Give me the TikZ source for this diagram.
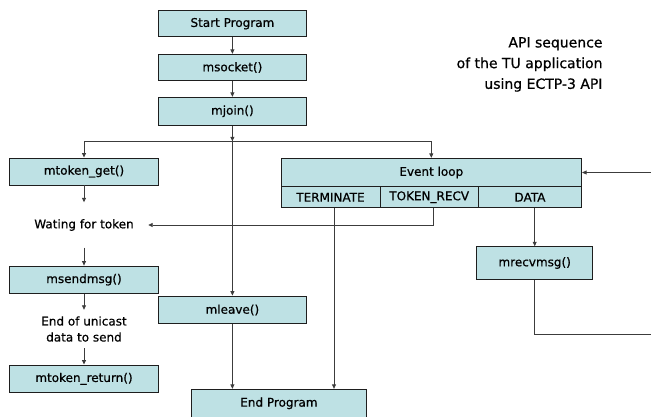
\documentclass[tikz,border=0pt]{standalone}
\usepackage{fontspec}
\setmainfont{DejaVu Sans}[BoldFont=DejaVu Sans,BoldFeatures={FakeBold=0.7}]
\usetikzlibrary{arrows.meta,calc}
\definecolor{boxfill}{RGB}{190,225,228}
\definecolor{boxline}{RGB}{30,30,30}
\definecolor{wire}{RGB}{60,60,60}
\tikzset{
  fnbox/.style={draw=boxline,fill=boxfill,line width=0.9pt,inner sep=0pt,
    font=\fontsize{12}{14}\selectfont\bfseries,text=black},
  note/.style={inner sep=0pt,font=\fontsize{12}{14}\selectfont\bfseries,align=center},
  wire/.style={draw=wire,line width=0.8pt},
  flow/.style={wire,-{Triangle[length=4.5pt,width=4pt]}},
}
\begin{document}
\begin{tikzpicture}[x=1pt,y=-1pt]
\useasboundingbox (0,0) rectangle (651,416);

% main column
\node[fnbox,minimum width=147.3pt,minimum height=26pt] (start) at (232.4,23.7) {Start Program};
\node[fnbox,minimum width=147.3pt,minimum height=26.4pt] (msocket) at (232.4,67.5) {msocket()};
\node[fnbox,minimum width=147.3pt,minimum height=28pt] (mjoin) at (232.4,111.3) {mjoin()};
\node[fnbox,minimum width=147.3pt,minimum height=27.7pt] (mleave) at (232.4,309.9) {mleave()};
\node[fnbox,minimum width=174.3pt,minimum height=28pt] (endp) at (278.9,403.3) {End Program};

% token sending column
\node[fnbox,minimum width=149.4pt,minimum height=27pt] (tokget) at (84,171.5) {mtoken\_get()};
\node[note,minimum width=128pt,minimum height=45pt] (wait) at (84,225) {Wating for token};
\node[fnbox,minimum width=149.4pt,minimum height=27.3pt] (send) at (84,279.7) {msendmsg()};
\node[note,minimum height=38pt,minimum width=100pt] (eodata) at (84,329)
  {End of unicast\\[2pt]data to send};
\node[fnbox,minimum width=149.4pt,minimum height=27.7pt] (tokret) at (84,378.8) {mtoken\_return()};

% event loop with its three events
\node[fnbox,minimum width=300.7pt,minimum height=28.4pt] (evloop) at (431.3,172.5) {Event loop};
\node[fnbox,minimum width=99pt,minimum height=21pt] (term) at (330.5,197.2) {TERMINATE};
\node[fnbox,minimum width=98.3pt,minimum height=21pt] (tokrecv) at (429.2,197.2) {TOKEN\_RECV};
\node[fnbox,minimum width=103.4pt,minimum height=21pt] (data) at (530,197.2) {DATA};
\node[fnbox,minimum width=116pt,minimum height=32.6pt] (recv) at (534.7,263) {mrecvmsg()};

% caption
\node[inner sep=0pt,align=right,anchor=north east,font=\fontsize{14}{20.7}\selectfont\bfseries] (caption)
  at (602.7,37) {API sequence\\of the TU application\\using ECTP-3 API};

% helper points
\coordinate (fork) at (232.4,141.3);
\coordinate (back) at (653,334.3);

% connectors
\draw[flow] (start) -- (msocket);
\draw[flow] (msocket) -- (mjoin);
\draw[flow] (mjoin.south) -- (fork);
\draw[flow] (mjoin.south) -- (mleave.north);
\draw[wire] (fork -| tokget) -- (fork -| evloop);
\draw[flow] (fork -| tokget) -- (tokget.north);
\draw[flow] (fork -| evloop) -- (evloop.north);
\draw[flow] (tokget) -- (wait);
\draw[flow] (wait) -- (send);
\draw[flow] (send) -- (eodata);
\draw[flow] (eodata) -- (tokret);
\draw[flow] (mleave) -- (mleave |- endp.north);
\draw[flow] ([xshift=3.5pt]term.south) -- ([xshift=3.5pt]term.south |- endp.north);
\draw[flow] ([xshift=4pt]tokrecv.south) |- (wait.east);
\draw[flow] (data.south -| recv) -- (recv.north);
\draw[flow] (recv.south) |- (back) |- (evloop.east);
\end{tikzpicture}
\end{document}
